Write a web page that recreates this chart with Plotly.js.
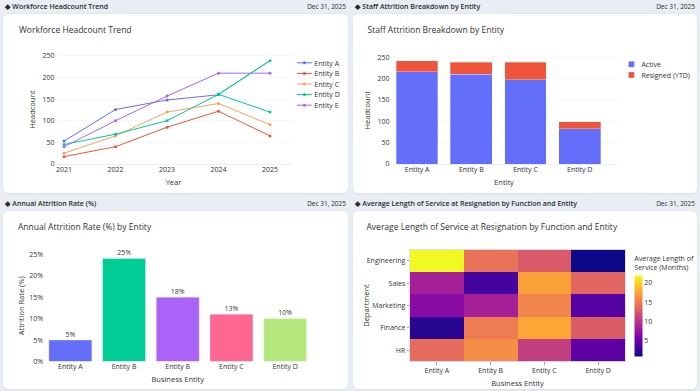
<!DOCTYPE html>
<html>
<head>
<meta charset="utf-8">
<script src="https://cdn.plot.ly/plotly-3.0.1.min.js"></script>
<style>
  html, body { margin:0; padding:0; width:700px; height:391px; overflow:hidden; background:#e9eef5; }
  #stage { position:absolute; left:0; top:0; width:1400px; height:782px; transform:scale(0.5); transform-origin:0 0; font-family:"Open Sans", "Noto Sans", sans-serif; }
  .hdr { position:absolute; font-size:14px; font-weight:600; color:#2b2b2b; line-height:20px; height:20px; white-space:nowrap; }
  .date { position:absolute; font-size:13px; font-weight:500; color:#2b2b2b; line-height:20px; height:20px; text-align:right; white-space:nowrap; }
  .card { position:absolute; background:#fff; border-radius:12px; box-shadow:0 1px 4px rgba(30,40,60,0.08); overflow:hidden; }
</style>
</head>
<body>
<div id="stage">
  <div class="hdr" style="left:10px; top:2px;">&#9670; Workforce Headcount Trend</div>
  <div class="date" style="left:540px; width:152px; top:2px;">Dec 31, 2025</div>
  <div class="hdr" style="left:710px; top:2px;">&#9670; Staff Attrition Breakdown by Entity</div>
  <div class="date" style="left:1238px; width:152px; top:2px;">Dec 31, 2025</div>
  <div class="hdr" style="left:10px; top:396px;">&#9670; Annual Attrition Rate (%)</div>
  <div class="date" style="left:540px; width:152px; top:396px;">Dec 31, 2025</div>
  <div class="hdr" style="left:710px; top:396px;">&#9670; Average Length of Service at Resignation by Function and Entity</div>
  <div class="date" style="left:1238px; width:152px; top:396px;">Dec 31, 2025</div>

  <div class="card" id="c1" style="left:6px; top:28px; width:690px; height:358px;"></div>
  <div class="card" id="c2" style="left:706px; top:28px; width:688px; height:358px;"></div>
  <div class="card" id="c3" style="left:6px; top:422px; width:690px; height:356px;"></div>
  <div class="card" id="c4" style="left:706px; top:422px; width:688px; height:356px;"></div>
</div>
<script>
// ---------- Data ----------
const years = [2021, 2022, 2023, 2024, 2025];
const entityA = [53, 126, 148, 160, null];
const entityB = [17, 40, 85, 122, 65];
const entityC = [25, 65, 120, 140, 91];
const entityD = [45, 69, 100, 161, 239];
const entityDAlt2025 = 120;   // second 2025 record for Entity D
const entityE = [40, 100, 157, 210, 210];

const entities4 = ["Entity A", "Entity B", "Entity C", "Entity D"];
const activeHC = [216, 210, 198, 83];
const resignedHC = [26, 28, 41, 16];

const rateEntities = ["Entity A", "Entity B", "Entity B", "Entity C", "Entity D"];
const rateValues = [5, 24, 15, 11, 10];
const rateLabels = ["5%", "25%", "18%", "13%", "10%"];
const rateTickVals = [0, 5, 10, 15, 20, 25];
const rateTickText = ["0%", "5%", "10%", "15%", "20%", "25%"];

const departments = ["Engineering", "Sales", "Marketing", "Finance", "HR"];
const serviceMonths = [
  [21.9, 14.4, 12.7, 0.8],
  [8.4, 3.1, 17.3, 13.5],
  [6.7, 8.5, 15.6, 4.0],
  [1.9, 15.0, 17.6, 12.9],
  [14.0, 16.1, 10.8, 4.4]
];

// ---------- Styling ----------
const FONT = {family:'"Open Sans", verdana, arial, sans-serif', size:14, color:'#333'};
const GRID = '#EBF0F8';
const TICKF = {size:14, color:'#333'};
const cfg = {staticPlot:true, displayModeBar:false};
const PLASMA = [[0,'#0d0887'],[0.1111,'#46039f'],[0.2222,'#7201a8'],[0.3333,'#9c179e'],[0.4444,'#bd3786'],
                [0.5556,'#d8576b'],[0.6667,'#ed7953'],[0.7778,'#fb9f3a'],[0.8889,'#fdca26'],[1,'#f0f921']];
function titleObj(text, px, py, w, h) {
  return {text:text, x:px/w, xanchor:'left', y:1-py/h, yanchor:'middle', font:{size:17, color:'#333'}};
}
function xTitle(text) { return {text:text, font:{size:15}, standoff:12}; }

// ---------- Chart 1 ----------
const lineColors = ['#636EFA', '#EF553B', '#FFA15A', '#00CC96', '#AB63FA'];
const series = [
  {name:'Entity A', x:years, y:entityA},
  {name:'Entity B', x:years, y:entityB},
  {name:'Entity C', x:years, y:entityC},
  {name:'Entity D', x:years.concat([years[3], years[4]]), y:entityD.concat([entityD[3], entityDAlt2025])},
  {name:'Entity E', x:years, y:entityE}
];
const t1 = series.map((s, i) => ({
  type:'scatter', mode:'lines+markers', name:s.name, x:s.x, y:s.y,
  line:{color:lineColors[i], width:2}, marker:{color:lineColors[i], size:6}
}));
Plotly.newPlot('c1', t1, {
  width:690, height:358, paper_bgcolor:'#fff', plot_bgcolor:'#fff', font:FONT,
  margin:{l:104, r:112, t:82, b:58, autoexpand:false},
  title:titleObj('Workforce Headcount Trend', 32, 32, 690, 358),
  xaxis:{range:[2020.825, 2025.427], tickvals:years, showgrid:false, zeroline:false, tickfont:TICKF, automargin:true, title:xTitle('Year')},
  yaxis:{range:[0, 252], dtick:50, gridcolor:GRID, zeroline:true, zerolinecolor:GRID, zerolinewidth:2, tickfont:TICKF, title:{text:'Headcount', font:{size:15}}},
  legend:{x:1.01, y:1, xanchor:'left', yanchor:'top', font:{size:14}},
  showlegend:true
}, cfg);

// ---------- Chart 2 ----------
const xi4 = entities4.map((_, i) => i);
Plotly.newPlot('c2', [
  {type:'bar', name:'Active', x:xi4, y:activeHC, marker:{color:'#636EFA', line:{color:'rgba(255,255,255,0.6)', width:1}}},
  {type:'bar', name:'Resigned (YTD)', x:xi4, y:resignedHC, marker:{color:'#EF553B', line:{color:'rgba(255,255,255,0.6)', width:1}}}
], {
  width:688, height:358, paper_bgcolor:'#fff', plot_bgcolor:'#fff', font:FONT,
  margin:{l:74, r:158, t:85, b:58, autoexpand:false}, barmode:'stack', bargap:0.23,
  title:titleObj('Staff Attrition Breakdown by Entity', 29, 32, 688, 358),
  xaxis:{range:[-0.5, 3.707], tickvals:xi4, ticktext:entities4, showgrid:false, zeroline:false, tickfont:TICKF, automargin:true, title:xTitle('Entity')},
  yaxis:{range:[0, 252], dtick:50, gridcolor:GRID, zeroline:true, zerolinecolor:GRID, zerolinewidth:2, tickfont:TICKF, title:{text:'Headcount', font:{size:15}}},
  legend:{x:1.015, y:1, xanchor:'left', yanchor:'top', traceorder:'normal', font:{size:14}}
}, cfg);

// ---------- Chart 3 ----------
const rateColors = ['#636EFA', '#00CC96', '#AB63FA', '#FF6692', '#B6E880'];
const xi5 = rateEntities.map((_, i) => i);
Plotly.newPlot('c3', [{
  type:'bar', x:xi5, y:rateValues, text:rateLabels, texttemplate:'%{text}', textposition:'outside',
  textfont:{size:14, color:'#333'}, cliponaxis:false,
  marker:{color:rateColors, line:{color:'rgba(255,255,255,0.6)', width:1}}, showlegend:false
}], {
  width:690, height:356, paper_bgcolor:'#fff', plot_bgcolor:'#fff', font:FONT,
  margin:{l:81, r:72, t:78, b:55, autoexpand:false}, bargap:0.2,
  title:titleObj('Annual Attrition Rate (%) by Entity', 30, 33, 690, 356),
  xaxis:{range:[-0.5, 4.5], tickvals:xi5, ticktext:rateEntities, showgrid:false, zeroline:false, tickfont:TICKF, automargin:true, title:xTitle('Business Entity')},
  yaxis:{range:[0, 26], tickvals:rateTickVals, ticktext:rateTickText, showgrid:false, zeroline:false, tickfont:TICKF, title:{text:'Attrition Rate (%)', font:{size:15}}}
}, cfg);

// ---------- Chart 4 ----------
Plotly.newPlot('c4', [{
  type:'heatmap', x:entities4, y:departments, z:serviceMonths, colorscale:PLASMA,
  colorbar:{title:{text:'Average Length of<br>Service (Months)', side:'top', font:{size:14}}, thickness:16, dtick:5, outlinewidth:0, ticks:'', tickfont:TICKF}
}], {
  width:688, height:356, paper_bgcolor:'#fff', plot_bgcolor:'#fff', font:FONT,
  margin:{l:114, r:144, t:77, b:55, autoexpand:false},
  title:titleObj('Average Length of Service at Resignation by Function and Entity', 27, 33, 688, 356),
  xaxis:{showgrid:false, zeroline:false, showline:true, mirror:true, linecolor:'#d3d4f2', linewidth:1.5, tickfont:TICKF, automargin:true, title:xTitle('Business Entity')},
  yaxis:{autorange:'reversed', showgrid:false, zeroline:false, showline:true, mirror:true, linecolor:'#d3d4f2', linewidth:1.5, tickfont:TICKF, title:{text:'Department', font:{size:15}}}
}, cfg);
</script>
</body>
</html>
